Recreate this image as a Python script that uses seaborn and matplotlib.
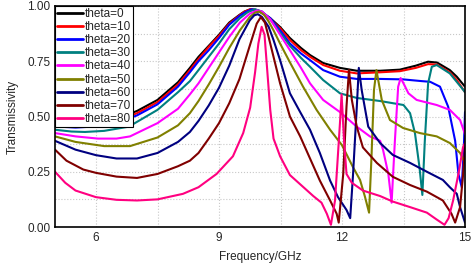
import numpy as np
import pandas as pd
import seaborn as sns
import matplotlib.pyplot as plt
from matplotlib.ticker import MultipleLocator

sns.set_style('white')
plt.rcParams['font.family'] = ['Liberation Sans', 'DejaVu Sans']

labels = ['theta=0', 'theta=10', 'theta=20', 'theta=30', 'theta=40',
          'theta=50', 'theta=60', 'theta=70', 'theta=80']
colors = ['#000000', '#FF0000', '#0000FF', '#008080', '#FF00FF',
          '#808000', '#000080', '#800000', '#FF0080']

# values (frequency in GHz, transmissivity)
f0 = [5.0, 5.5, 6.0, 6.5, 7.0, 7.5, 8.0, 8.29, 8.5, 8.75, 9.0, 9.25, 9.5, 9.62, 9.76, 9.9, 10.05, 10.25,
      10.49, 10.73, 11.0, 11.22, 11.54, 11.95, 12.36, 12.93, 13.41, 13.8, 14.1, 14.32, 14.63, 14.8, 15.0]
t0 = [0.475, 0.47, 0.475, 0.49, 0.525, 0.575, 0.655, 0.72, 0.77, 0.82, 0.87, 0.925, 0.96, 0.975, 0.985, 0.982,
      0.97, 0.945, 0.905, 0.855, 0.81, 0.778, 0.742, 0.72, 0.707, 0.707, 0.712, 0.73, 0.748, 0.744, 0.71, 0.68,
      0.635]

f10 = f0
t10 = [0.465, 0.46, 0.465, 0.48, 0.515, 0.565, 0.645, 0.71, 0.76, 0.815, 0.865, 0.92, 0.958, 0.974, 0.985,
       0.982, 0.968, 0.94, 0.90, 0.846, 0.80, 0.77, 0.733, 0.707, 0.695, 0.70, 0.705, 0.72, 0.737, 0.735, 0.70,
       0.665, 0.61]

f20 = [5.0, 5.5, 6.0, 6.5, 7.0, 7.5, 8.0, 8.29, 8.5, 8.75, 9.0, 9.25, 9.5, 9.65, 9.8, 9.93, 10.05, 10.25, 10.49,
       10.73, 11.0, 11.22, 11.54, 11.95, 12.36, 12.93, 13.49, 13.95, 14.15, 14.39, 14.59, 14.76, 14.84, 14.92,
       14.97, 15.0]
t20 = [0.455, 0.45, 0.455, 0.47, 0.505, 0.555, 0.635, 0.70, 0.75, 0.80, 0.855, 0.915, 0.955, 0.973, 0.985,
       0.982, 0.972, 0.945, 0.89, 0.83, 0.785, 0.755, 0.71, 0.68, 0.67, 0.67, 0.668, 0.66, 0.657, 0.635, 0.544,
       0.39, 0.24, 0.18, 0.35, 0.52]

f30 = [5.0, 5.4, 5.73, 6.2, 6.8, 7.5, 8.0, 8.29, 8.5, 8.75, 9.0, 9.25, 9.51, 9.7, 9.88, 10.05, 10.25, 10.49,
       10.73, 11.0, 11.22, 11.54, 11.95, 12.36, 12.93, 13.5, 13.66, 13.78, 13.89, 13.96, 14.02, 14.1, 14.19,
       14.31, 14.63, 14.96, 15.0]
t30 = [0.44, 0.432, 0.43, 0.435, 0.454, 0.53, 0.61, 0.66, 0.71, 0.77, 0.83, 0.895, 0.945, 0.972, 0.985, 0.975,
       0.94, 0.88, 0.82, 0.765, 0.725, 0.665, 0.605, 0.584, 0.57, 0.552, 0.515, 0.424, 0.27, 0.145, 0.39, 0.65,
       0.725, 0.733, 0.695, 0.62, 0.61]

f40 = [5.0, 5.5, 6.05, 6.5, 6.83, 7.5, 8.0, 8.29, 8.5, 8.75, 9.0, 9.25, 9.51, 9.75, 9.93, 10.05, 10.25, 10.49,
       10.73, 11.0, 11.22, 11.54, 11.95, 12.36, 12.68, 12.93, 13.0, 13.13, 13.21, 13.29, 13.37, 13.43, 13.5,
       13.62, 13.82, 14.31, 14.63, 14.88, 15.0]
t40 = [0.425, 0.41, 0.40, 0.40, 0.41, 0.47, 0.535, 0.60, 0.65, 0.72, 0.79, 0.86, 0.925, 0.965, 0.98, 0.975, 0.94,
       0.87, 0.80, 0.72, 0.65, 0.575, 0.52, 0.454, 0.41, 0.39, 0.35, 0.24, 0.11, 0.39, 0.635, 0.674, 0.65,
       0.605, 0.575, 0.552, 0.53, 0.484, 0.42]

f50 = [5.0, 5.5, 6.2, 6.83, 7.5, 8.0, 8.29, 8.5, 8.75, 9.0, 9.25, 9.51, 9.75, 9.88, 9.98, 10.1, 10.21, 10.33,
       10.49, 10.73, 11.05, 11.38, 11.71, 12.0, 12.27, 12.44, 12.56, 12.66, 12.72, 12.78, 12.84, 12.97, 13.17,
       13.49, 13.9, 14.31, 14.63, 14.88, 15.0]
t50 = [0.41, 0.385, 0.366, 0.366, 0.405, 0.46, 0.515, 0.57, 0.645, 0.725, 0.81, 0.89, 0.95, 0.97, 0.975, 0.96,
       0.93, 0.89, 0.83, 0.745, 0.635, 0.53, 0.44, 0.37, 0.27, 0.213, 0.137, 0.065, 0.32, 0.62, 0.71, 0.575,
       0.484, 0.448, 0.425, 0.41, 0.38, 0.335, 0.29]

f60 = [5.0, 5.5, 6.0, 6.5, 7.0, 7.5, 8.0, 8.29, 8.5, 8.75, 9.0, 9.25, 9.5, 9.75, 9.86, 9.95, 10.05, 10.21,
       10.33, 10.49, 10.73, 10.98, 11.22, 11.46, 11.71, 11.9, 12.11, 12.2, 12.27, 12.36, 12.41, 12.48, 12.64,
       12.93, 13.24, 13.66, 14.07, 14.46, 14.63, 14.8, 14.88, 15.0]
t60 = [0.39, 0.35, 0.325, 0.31, 0.31, 0.335, 0.385, 0.43, 0.48, 0.55, 0.63, 0.73, 0.85, 0.935, 0.958, 0.963,
       0.95, 0.906, 0.846, 0.755, 0.605, 0.52, 0.44, 0.335, 0.21, 0.136, 0.077, 0.04, 0.24, 0.54, 0.72, 0.62,
       0.454, 0.38, 0.326, 0.29, 0.25, 0.213, 0.18, 0.15, 0.09, 0.02]

f70 = [5.0, 5.28, 5.69, 6.0, 6.5, 7.0, 7.5, 8.0, 8.29, 8.5, 8.75, 9.0, 9.25, 9.5, 9.75, 9.92, 10.02, 10.12,
       10.21, 10.33, 10.49, 10.73, 10.98, 11.22, 11.46, 11.71, 11.87, 11.92, 12.03, 12.11, 12.17, 12.24, 12.36,
       12.51, 12.85, 13.24, 13.66, 14.07, 14.46, 14.67, 14.76, 14.88, 14.95, 15.0]
t70 = [0.35, 0.30, 0.26, 0.245, 0.228, 0.222, 0.24, 0.275, 0.30, 0.335, 0.40, 0.47, 0.56, 0.67, 0.82, 0.92,
       0.95, 0.925, 0.86, 0.77, 0.65, 0.50, 0.41, 0.31, 0.21, 0.12, 0.06, 0.02, 0.24, 0.545, 0.71, 0.575, 0.454,
       0.36, 0.29, 0.227, 0.19, 0.16, 0.12, 0.06, 0.02, 0.09, 0.23, 0.36]

f80 = [5.0, 5.25, 5.5, 6.0, 6.5, 7.0, 7.5, 8.12, 8.5, 8.94, 9.34, 9.59, 9.76, 9.88, 9.96, 10.04, 10.11, 10.17,
       10.25, 10.33, 10.49, 10.73, 11.0, 11.3, 11.5, 11.63, 11.73, 11.83, 11.95, 11.99, 12.05, 12.11, 12.24,
       12.51, 12.93, 13.24, 13.66, 14.07, 14.3, 14.5, 14.6, 14.71, 14.85, 14.95, 15.0]
t80 = [0.25, 0.20, 0.165, 0.135, 0.123, 0.12, 0.125, 0.15, 0.18, 0.24, 0.32, 0.425, 0.54, 0.70, 0.83, 0.906,
       0.87, 0.725, 0.53, 0.40, 0.32, 0.235, 0.19, 0.14, 0.11, 0.06, 0.01, 0.12, 0.47, 0.60, 0.39, 0.24, 0.20,
       0.165, 0.14, 0.115, 0.09, 0.065, 0.035, 0.01, 0.04, 0.12, 0.25, 0.36, 0.38]

freqs = [f0, f10, f20, f30, f40, f50, f60, f70, f80]
trans = [t0, t10, t20, t30, t40, t50, t60, t70, t80]

frames = []
for lab, f, t in zip(labels, freqs, trans):
    frames.append(pd.DataFrame({'freq': f, 'trans': t, 'theta': lab}))
df = pd.concat(frames, ignore_index=True)

fig = plt.figure(figsize=(4.72, 2.64), dpi=100)
ax = fig.add_axes([55/472, 1 - 227/264, 410/472, 221/264])

sns.lineplot(data=df, x='freq', y='trans', hue='theta', hue_order=labels,
             palette=dict(zip(labels, colors)), estimator=None, sort=False,
             lw=1.5, ax=ax)

ax.set_xlim(5, 15)
ax.set_ylim(0, 1)
ax.xaxis.set_major_locator(MultipleLocator(3))
ax.xaxis.set_minor_locator(MultipleLocator(1.5))
ax.yaxis.set_major_locator(MultipleLocator(0.25))
ax.yaxis.set_minor_locator(MultipleLocator(0.125))
ax.yaxis.set_major_formatter(plt.FormatStrFormatter('%.2f'))
ax.grid(True, which='both', color='#c8c8c8', linestyle=':', linewidth=0.8)
ax.tick_params(which='both', direction='in', labelsize=8.5, length=3, width=0.8)
ax.tick_params(which='minor', length=2)
for s in ax.spines.values():
    s.set_color('black')
    s.set_linewidth(1.2)

ax.set_xlabel('Frequency/GHz', fontsize=8.5, labelpad=5)
ax.set_ylabel('Transmissivity', fontsize=8.5, labelpad=6)

leg = ax.legend(loc='upper left', bbox_to_anchor=(0, 1), borderaxespad=0, fontsize=8.5,
                frameon=True, fancybox=False, edgecolor='black', framealpha=1,
                handlelength=2.2, handletextpad=0.15, labelspacing=0.1, borderpad=0.15)
leg.get_frame().set_linewidth(0.8)
for h in leg.get_lines():
    h.set_linewidth(2)

fig.savefig('out.png', dpi=100)
